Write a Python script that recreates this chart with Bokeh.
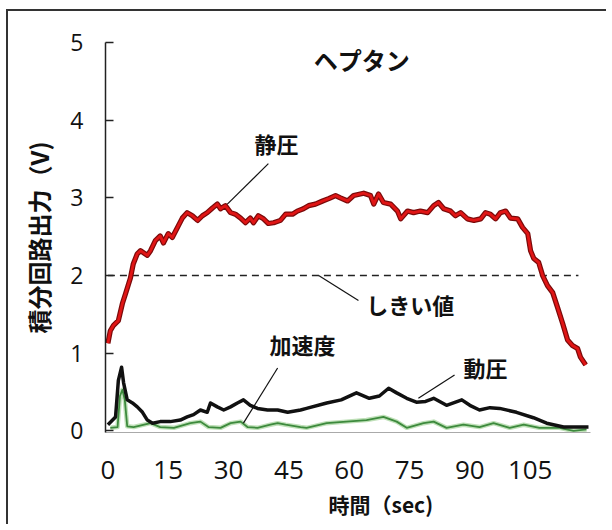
from bokeh.plotting import figure
from bokeh.models import Range1d, Label, ColumnDataSource, Title
from bokeh.embed import file_html
from bokeh.resources import INLINE
from bokeh.core.properties import value

# ---- data ----
static_t = [0, 0.6, 1.4, 2.6, 3.6, 4.4, 5.6, 6.3, 7.3, 8.1, 9.8, 10.6, 11.8, 13, 13.8, 15, 16,
            17.5, 18.5, 19.7, 21, 22.3, 23.5, 24.7, 26, 27.2, 28, 29.2, 30.5, 31.7, 33, 34.2,
            35.4, 36.2, 37.4, 38.7, 39.9, 41.2, 42.9, 44.2, 45.9, 47.1, 48.6, 49.9, 51.6, 53.4,
            54.9, 56.6, 57.8, 59.6, 61.1, 63.6, 65.3, 66.1, 67.3, 68.5, 70.3, 72, 72.8, 74.5,
            76, 77.7, 79.5, 81, 82.2, 83.5, 85.2, 86.4, 87.7, 89.4, 91, 92.7, 93.9, 95.1, 96.4,
            97.6, 98.9, 100.1, 101.9, 103.1, 104.4, 105.1, 105.9, 107.1, 108.1, 109.3, 110.6,
            111.8, 113.1, 114.3, 115.5, 116.8, 117.5, 118.8]
static_v = [1.13, 1.29, 1.36, 1.42, 1.64, 1.77, 1.97, 2.15, 2.28, 2.32, 2.26, 2.32, 2.45, 2.51,
            2.42, 2.54, 2.49, 2.64, 2.74, 2.81, 2.77, 2.71, 2.77, 2.81, 2.87, 2.92, 2.86, 2.90,
            2.81, 2.79, 2.74, 2.68, 2.74, 2.68, 2.77, 2.73, 2.67, 2.68, 2.71, 2.79, 2.79, 2.83,
            2.86, 2.90, 2.92, 2.96, 2.99, 3.03, 3.00, 2.96, 3.03, 3.06, 3.03, 2.92, 3.05, 2.94,
            2.92, 2.83, 2.73, 2.83, 2.81, 2.83, 2.81, 2.90, 2.94, 2.86, 2.83, 2.77, 2.81, 2.73,
            2.71, 2.73, 2.81, 2.79, 2.73, 2.81, 2.83, 2.74, 2.73, 2.62, 2.54, 2.32, 2.22, 2.17,
            2.00, 1.87, 1.78, 1.59, 1.38, 1.17, 1.10, 1.06, 0.95, 0.85]

dynamic_t = [0, 1.9, 2.6, 3.4, 3.9, 4.8, 6.1, 7.3, 8.6, 9.8, 11.1, 13, 15.5, 18, 19.7, 21.3, 23,
             24.7, 25.5, 27.2, 28.8, 30.5, 32.2, 33.7, 35.4, 37.2, 39.7, 42.2, 44.7, 47.9, 49.4,
             54.4, 58, 61.8, 65, 67.5, 69.8, 71.8, 74.3, 76.7, 79, 81, 84.2, 88, 90, 92.4, 95,
             97.4, 101.6, 105.8, 109.1, 113.3, 116.5, 119.5]
dynamic_v = [0.08, 0.18, 0.65, 0.82, 0.62, 0.40, 0.36, 0.31, 0.24, 0.14, 0.10, 0.12, 0.12, 0.14,
             0.18, 0.21, 0.27, 0.24, 0.36, 0.31, 0.27, 0.31, 0.36, 0.40, 0.33, 0.29, 0.27, 0.27,
             0.24, 0.27, 0.29, 0.36, 0.40, 0.49, 0.42, 0.45, 0.55, 0.49, 0.42, 0.37, 0.38, 0.42,
             0.33, 0.40, 0.33, 0.27, 0.30, 0.29, 0.24, 0.17, 0.10, 0.05, 0.05, 0.05]

accel_t = [0.6, 2.4, 3.0, 3.6, 4.2, 4.8, 6.4, 10.6, 13, 16.4, 20.5, 23, 25, 28, 30.5, 33, 34.7,
           37.2, 40.4, 42.2, 44.2, 47.9, 49.4, 54.4, 59.3, 64.3, 68.5, 71.8, 74.3, 78.5, 81,
           84.2, 88.4, 92.4, 95.9, 99.9, 103.4, 107.3, 112.3, 115.8, 119]
accel_v = [0.04, 0.05, 0.45, 0.53, 0.40, 0.06, 0.05, 0.10, 0.05, 0.04, 0.10, 0.12, 0.05, 0.04,
           0.10, 0.12, 0.05, 0.04, 0.08, 0.10, 0.08, 0.05, 0.04, 0.10, 0.12, 0.14, 0.18, 0.12,
           0.04, 0.10, 0.12, 0.04, 0.08, 0.05, 0.10, 0.04, 0.08, 0.04, 0.04, 0.00, 0.02]

threshold_t = [0, 117]
threshold_v = [2, 2]

x_ticks = [0, 15, 30, 45, 60, 75, 90, 105]
y_ticks = [0, 1, 2, 3, 4, 5]

title_text = "ヘプタン"
x_label = "時間（sec)"
y_label = "積分回路出力（V)"

note_text = ["静圧", "しきい値", "加速度", "動圧"]
note_x = [41.9, 75.2, 48.4, 93.9]
note_y = [3.71, 1.64, 1.12, 0.82]
leader_x0 = [39.9, 52.4, 42.2, 86.2]
leader_y0 = [3.44, 2.0, 0.81, 0.72]
leader_x1 = [29.7, 62.3, 33.7, 77.2]
leader_y1 = [2.92, 1.68, 0.10, 0.42]

JP = "Noto Sans CJK JP"
NUM = "Open Sans"

p = figure(frame_width=485, frame_height=390,
           x_range=Range1d(-0.6, 120), y_range=Range1d(-0.02, 5.0),
           output_backend="svg", toolbar_location=None,
           min_border_left=97, min_border_right=16, min_border_top=31, min_border_bottom=14)
p.styles = {"border-left": "2px solid #333333", "border-top": "2px solid #333333",
            "margin-left": "6px", "margin-top": "9px"}
p.outline_line_color = None
p.grid.visible = False
p.background_fill_color = "white"
p.border_fill_color = "white"

# y axis
p.yaxis.ticker = y_ticks
p.yaxis.major_tick_in = 8
p.yaxis.major_tick_out = 0
p.yaxis.minor_tick_line_color = None
p.yaxis.axis_line_width = 1.5
p.yaxis.axis_line_color = "#222222"
p.yaxis.major_tick_line_color = "#222222"
p.yaxis.major_tick_line_width = 1.5
p.yaxis.major_label_text_font = NUM
p.yaxis.major_label_text_font_size = "23px"
p.yaxis.major_label_text_color = "#111111"
p.yaxis.major_label_standoff = 22
p.yaxis.axis_label = y_label
p.yaxis.axis_label_text_font = JP
p.yaxis.axis_label_text_font_style = "bold"
p.yaxis.axis_label_text_font_size = "24px"
p.yaxis.axis_label_text_color = "#111111"
p.yaxis.axis_label_standoff = 11

# x axis
p.xaxis.ticker = x_ticks
p.xaxis.major_tick_in = 0
p.xaxis.major_tick_out = 0
p.xaxis.minor_tick_line_color = None
p.xaxis.axis_line_color = "#aaaaaa"
p.xaxis.axis_line_width = 1
p.xaxis.major_label_text_font = NUM
p.xaxis.major_label_text_font_size = "26px"
p.xaxis.major_label_text_color = "#111111"
p.xaxis.major_label_standoff = 28

# x axis label as a "below" title, shifted right like the reference
p.add_layout(Title(text=x_label, align="left", offset=223, standoff=11,
                   text_font=JP, text_font_style="bold", text_font_size="21px",
                   text_color="#111111"), "below")

# threshold
p.line(threshold_t, threshold_v, line_color="#222222", line_width=1.6, line_dash="7 5")

# acceleration (green)
p.line(accel_t, accel_v, line_color="#bfe0b8", line_width=4.5, line_join="round")
p.line(accel_t, accel_v, line_color="#3d8a3d", line_width=1.8, line_join="round")

# dynamic pressure (black)
p.line(dynamic_t, dynamic_v, line_color="#111111", line_width=3.5, line_join="round")

# static pressure (red)
p.line(static_t, static_v, line_color="#7a0a0a", line_width=5.2, line_join="round")
p.line(static_t, static_v, line_color="#e01515", line_width=2.8, line_join="round")

# leader lines
p.segment(x0=leader_x0, y0=leader_y0, x1=leader_x1, y1=leader_y1,
          line_color="#111111", line_width=1.2)

# annotation texts
src = ColumnDataSource(dict(x=note_x, y=note_y, t=note_text))
p.text(x="x", y="y", text="t", source=src, text_font=value(JP), text_font_style="bold",
       text_font_size="22px", text_align="center", text_baseline="middle", text_color="#111111")

p.add_layout(Label(x=63.1, y=4.78, text=title_text, text_font=JP, text_font_style="bold",
                   text_font_size="24px", text_align="center", text_baseline="middle",
                   text_color="#111111"))

open("out.html", "w").write(file_html(p, INLINE))
